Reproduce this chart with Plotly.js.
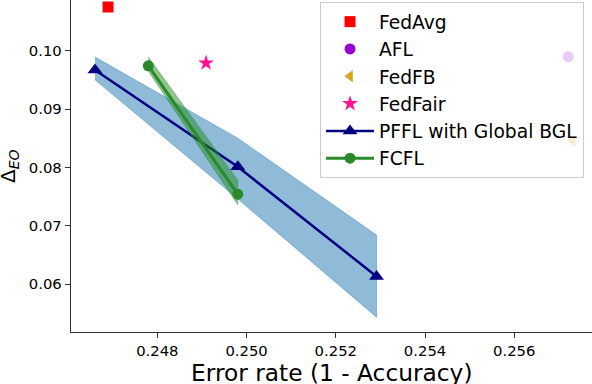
<!DOCTYPE html>
<html>
<head>
<meta charset="utf-8">
<script src="https://cdn.plot.ly/plotly-3.0.1.min.js"></script>
<style>
  body { margin: 0; background: #fff; }
  #myPlot1 { width: 592px; height: 384px; }
</style>
</head>
<body>
<div id="myPlot1"></div>
<script>
// single baselines
const fedAvgX = [0.246895], fedAvgY = [0.10749];
const aflX = [0.25721], aflY = [0.09897];
const fedFbX = [0.25731], fedFbY = [0.08452];
const fedFairX = [0.249092], fedFairY = [0.09789];

// PFFL with Global BGL (mean and spread)
const pfflX = [0.246603, 0.249803, 0.252913];
const pfflY = [0.0967, 0.0801, 0.0613];
const pfflLow = [0.0950, 0.0746, 0.0543];
const pfflHigh = [0.0989, 0.0850, 0.0684];

// FCFL
const fcflX = [0.247798, 0.249803];
const fcflY = [0.0974, 0.0754];
const fcflLow = [0.0965, 0.0736];
const fcflHigh = [0.0989, 0.0778];

const xTicks = [0.248, 0.250, 0.252, 0.254, 0.256];
const yTicks = [0.06, 0.07, 0.08, 0.09, 0.10];

const xLabel = "Error rate (1 - Accuracy)";
const yLabel = "Δ<sub><i>EO</i></sub>";

function band(xs, lo, hi, color){
  // polygon: upper edge forward, lower edge back
  return {
    x: xs.concat(xs.slice().reverse()),
    y: hi.concat(lo.slice().reverse()),
    mode: "lines", fill: "toself", fillcolor: color,
    line: {color: color, width: 0.8},
    hoverinfo: "skip", showlegend: false
  };
}

const data1 = [
  band(pfflX, pfflLow, pfflHigh, "rgba(31,119,180,0.5)"),
  {x: pfflX, y: pfflY, mode: "lines+markers", name: "PFFL with Global BGL", legendrank: 5,
   line: {color: "#000080", width: 2.5},
   marker: {symbol: "triangle-up", size: 13, color: "#000080"}},
  band(fcflX, fcflLow, fcflHigh, "rgba(34,139,34,0.5)"),
  {x: fcflX, y: fcflY, mode: "lines+markers", name: "FCFL", legendrank: 6,
   line: {color: "#2a8a2a", width: 3},
   marker: {symbol: "circle", size: 11, color: "#2a8a2a"}},
  {x: fedAvgX, y: fedAvgY, mode: "markers", name: "FedAvg", legendrank: 1,
   marker: {symbol: "square", size: 11, color: "#ff0000"}},
  {x: aflX, y: aflY, mode: "markers", name: "AFL", legendrank: 2,
   marker: {symbol: "circle", size: 11, color: "#9400d3"}},
  {x: fedFbX, y: fedFbY, mode: "markers", name: "FedFB", legendrank: 3,
   marker: {symbol: "triangle-left", size: 11, color: "#daa520"}},
  {x: fedFairX, y: fedFairY, mode: "markers", name: "FedFair", legendrank: 4,
   marker: {symbol: "star", size: 12, color: "#ff1493"}}
];

const layout1 = {
  width: 592, height: 384,
  margin: {l: 71, r: 0, t: 0, b: 52},
  paper_bgcolor: "#fff", plot_bgcolor: "#fff",
  font: {family: "DejaVu Sans", color: "#000"},
  xaxis: {
    range: [0.246065, 0.257742],
    tickvals: xTicks, tickformat: ".3f",
    tickfont: {size: 14.8},
    ticks: "outside", ticklen: 5, tickcolor: "#333",
    showline: true, linecolor: "#333", linewidth: 1.3,
    showgrid: false, zeroline: false
  },
  yaxis: {
    range: [0.05177, 0.10869],
    tickvals: yTicks, tickformat: ".2f",
    tickfont: {size: 14.8},
    ticks: "outside", ticklen: 5, tickcolor: "#333",
    showline: true, linecolor: "#333", linewidth: 1.3,
    showgrid: false, zeroline: false
  },
  // axis titles as annotations so they can sit partly outside the margin like the original
  annotations: [
    {text: xLabel, xref: "paper", yref: "paper", x: 0.5, y: 0,
     xanchor: "center", yanchor: "top", yshift: -25, showarrow: false,
     font: {size: 23.3}},
    {text: yLabel, xref: "paper", yref: "paper", x: 0, y: 0.5,
     xanchor: "center", yanchor: "middle", xshift: -62, textangle: -90, showarrow: false,
     font: {size: 20}}
  ],
  legend: {
    x: 0.478, y: 0.994, xanchor: "left", yanchor: "top",
    bgcolor: "rgba(255,255,255,0.8)", bordercolor: "#cccccc", borderwidth: 1,
    font: {size: 18.7}, itemwidth: 48, tracegroupgap: 0
  },
  showlegend: true
};

Plotly.newPlot("myPlot1", data1, layout1, {displayModeBar: false, staticPlot: true});
</script>
</body>
</html>
